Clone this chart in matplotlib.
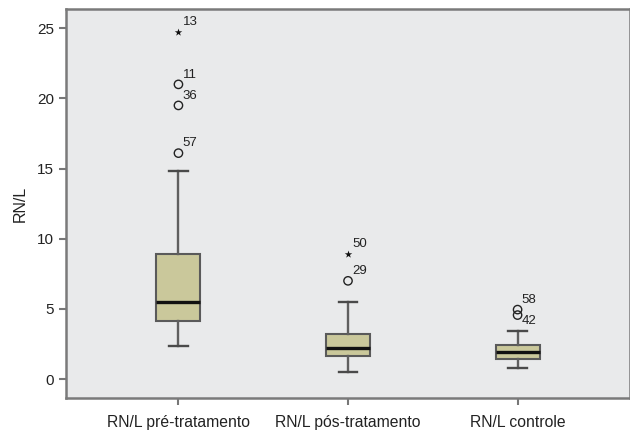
import matplotlib
matplotlib.use("Agg")
import matplotlib.pyplot as plt

plt.rcParams['font.family'] = ['Liberation Sans', 'DejaVu Sans']

categories = ["RN/L pré-tratamento", "RN/L pós-tratamento", "RN/L controle"]
whislo = [2.35, 0.52, 0.80]
q1 = [4.13, 1.66, 1.40]
med = [5.49, 2.19, 1.95]
q3 = [8.90, 3.20, 2.42]
whishi = [14.80, 5.51, 3.44]

# outliers (circles): group index, value, case label
out_group = [0, 0, 0, 1, 2, 2]
out_value = [21.0, 19.5, 16.1, 7.0, 4.95, 4.56]
out_label = ["11", "36", "57", "29", "58", "42"]
# extremes (stars)
ext_group = [0, 1]
ext_value = [24.7, 8.88]
ext_label = ["13", "50"]

yticks = [0, 5, 10, 15, 20, 25]

fig = plt.figure(figsize=(6.30, 4.33), dpi=100)
ax = fig.add_axes([0.1048, 0.0808, 0.8952, 0.8984])
ax.set_facecolor('#e9eaeb')

stats = []
for i in range(len(categories)):
    stats.append(dict(whislo=whislo[i], q1=q1[i], med=med[i], q3=q3[i],
                      whishi=whishi[i], fliers=[], label=categories[i]))
pos = [1, 2, 3]
ax.bxp(stats, positions=pos, widths=0.26, patch_artist=True, showfliers=False,
       boxprops=dict(facecolor='#cac89b', edgecolor='#5a5a5a', linewidth=1.5),
       medianprops=dict(color='#111111', linewidth=2.4),
       whiskerprops=dict(color='#5f5f5f', linewidth=1.7),
       capprops=dict(color='#4a4a4a', linewidth=1.7),
       capwidths=0.11)

ox = [pos[g] for g in out_group]
ax.scatter(ox, out_value, s=36, facecolors='none', edgecolors='#222222',
           linewidths=1.0, zorder=5)
ex = [pos[g] for g in ext_group]
ax.scatter(ex, ext_value, s=32, marker='*', color='#111111', linewidths=0, zorder=5)

for x, v, lab in zip(ox, out_value, out_label):
    dy = -4 if lab == "42" else 7
    ax.annotate(lab, (x, v), xytext=(3, dy), textcoords='offset points',
                fontsize=9.5, ha='left', va='center', color='#222222')
for x, v, lab in zip(ex, ext_value, ext_label):
    ax.annotate(lab, (x, v), xytext=(3, 7.5), textcoords='offset points',
                fontsize=9.5, ha='left', va='center', color='#222222')

ax.set_xlim(0.337, 3.663)
ax.set_ylim(-1.35, 26.37)
ax.set_yticks(yticks)
ax.set_yticklabels([str(t) for t in yticks])
ax.set_xticks(pos)
ax.set_xticklabels(categories)
ax.tick_params(axis='both', colors='#777777', labelcolor='#222222',
               labelsize=11, length=5, width=1.5, direction='out')
ax.tick_params(axis='x', pad=7, labelsize=11.3)
ax.set_ylabel("RN/L", fontsize=11.5, color='#222222', labelpad=7)
for sp in ax.spines.values():
    sp.set_color('#7a7a7a')
    sp.set_linewidth(1.8)

fig.savefig("out.png", dpi=100)
